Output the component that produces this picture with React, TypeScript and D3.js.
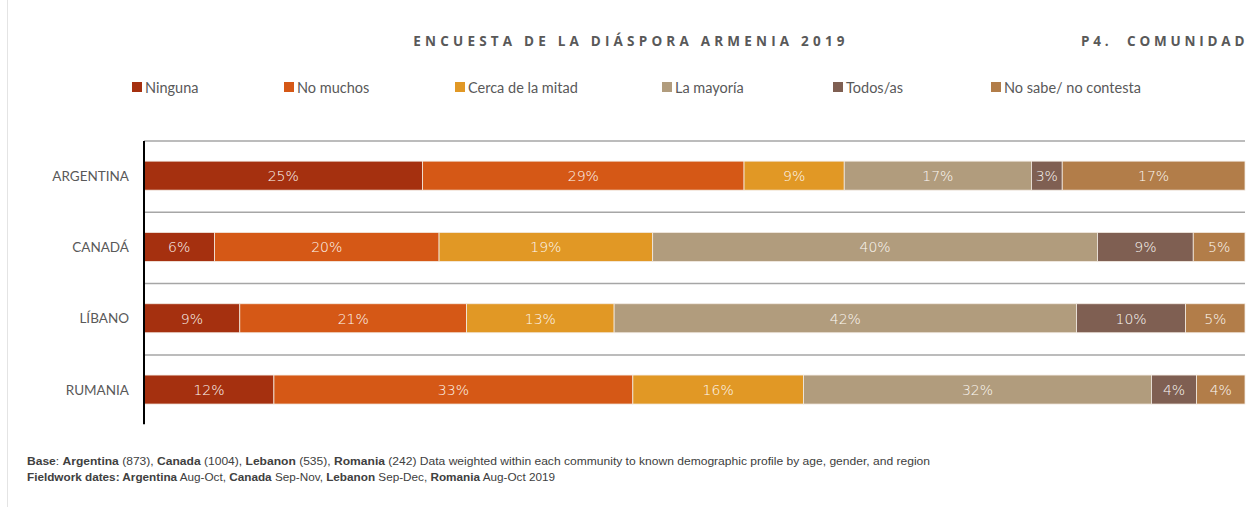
import React, { useEffect, useRef } from "react"
import * as d3 from "d3"

const categories = ["ARGENTINA", "CANADÁ", "LÍBANO", "RUMANIA"]
const seriesNames = ["Ninguna", "No muchos", "Cerca de la mitad", "La mayoría", "Todos/as", "No sabe/ no contesta"]
const colors = ["#a5300f", "#d55816", "#e19825", "#b19c7d", "#7f5f52", "#b27d49"]

// percentage per category, in the series order above
const ninguna = [25.3, 6.4, 8.7, 11.8]
const noMuchos = [29.2, 20.4, 20.6, 32.6]
const cercaMitad = [9.1, 19.4, 13.4, 15.5]
const laMayoria = [17.0, 40.4, 42.0, 31.6]
const todos = [2.8, 8.7, 9.9, 4.1]
const noSabe = [16.6, 4.7, 5.4, 4.4]

const legendX = [132, 284, 455, 662, 833, 991]

function App() {
  const ref = useRef<SVGSVGElement>(null)

  useEffect(() => {
    const width = 1251
    const height = 507
    const svg = d3.select(ref.current)
    svg.selectAll("*").remove()
    svg.attr("width", width).attr("height", height)

    const left = 144
    const right = 1245
    const top = 141
    const step = 71.3

    const x = d3.scaleLinear().domain([0, 100]).range([left, right])
    const y = d3
      .scaleBand()
      .domain(categories)
      .range([top, top + step * categories.length])
    const barH = 29

    const rows = categories.map((c, i) => {
      const r: any = { category: c }
      const vals = [ninguna[i], noMuchos[i], cercaMitad[i], laMayoria[i], todos[i], noSabe[i]]
      seriesNames.forEach((s, j) => (r[s] = vals[j]))
      return r
    })
    const stacked = d3.stack().keys(seriesNames)(rows)

    // frame line at left
    svg
      .append("line")
      .attr("x1", 7.5)
      .attr("x2", 7.5)
      .attr("y1", 0)
      .attr("y2", height)
      .attr("stroke", "#e4e4e4")
      .attr("stroke-width", 1)

    // title
    svg
      .append("text")
      .attr("x", 631)
      .attr("y", 46)
      .attr("text-anchor", "middle")
      .attr("font-family", "Open Sans, sans-serif")
      .attr("font-weight", "bold")
      .attr("font-size", 13.5)
      .attr("letter-spacing", 4.2)
      .attr("fill", "#595959")
      .text("ENCUESTA DE LA DIÁSPORA ARMENIA 2019")

    const sub = svg
      .append("g")
      .attr("font-family", "Open Sans, sans-serif")
      .attr("font-weight", "bold")
      .attr("font-size", 13.5)
      .attr("letter-spacing", 3.8)
      .attr("fill", "#595959")
    sub.append("text").attr("x", 1081).attr("y", 46).text("P4.")
    sub.append("text").attr("x", 1127).attr("y", 46).text("COMUNIDAD")

    // legend
    const lg = svg
      .append("g")
      .selectAll("g")
      .data(seriesNames)
      .join("g")
      .attr("transform", (d, i) => `translate(${legendX[i]},82)`)
    lg.append("rect").attr("width", 10).attr("height", 10).attr("fill", (d, i) => colors[i])
    lg
      .append("text")
      .attr("x", 13)
      .attr("y", 10.5)
      .attr("font-family", "Lato, sans-serif")
      .attr("font-size", 14.5)
      .attr("fill", "#595959")
      .text(d => d)

    // gridlines
    svg
      .append("g")
      .selectAll("line")
      .data(categories)
      .join("line")
      .attr("x1", left)
      .attr("x2", right)
      .attr("y1", d => y(d)!)
      .attr("y2", d => y(d)!)
      .attr("stroke", "#a6a6a6")
      .attr("stroke-width", 1.5)

    // bars
    const groups = svg
      .append("g")
      .selectAll("g")
      .data(stacked)
      .join("g")
      .attr("fill", (d, i) => colors[i])

    groups
      .selectAll("rect")
      .data(d => d)
      .join("rect")
      .attr("x", d => x(d[0]))
      .attr("width", d => x(d[1]) - x(d[0]))
      .attr("y", d => y((d.data as any).category)! + (y.bandwidth() - barH) / 2 - 1)
      .attr("height", barH)
      .attr("stroke", "#f3ebe3")
      .attr("stroke-width", 0.8)

    groups
      .selectAll("text")
      .data(d => d)
      .join("text")
      .attr("x", d => (x(d[0]) + x(d[1])) / 2)
      .attr("y", d => y((d.data as any).category)! + y.bandwidth() / 2 + 4.5)
      .attr("text-anchor", "middle")
      .attr("font-family", "DejaVu Sans, sans-serif")
      .attr("font-size", 14)
      .attr("font-weight", 200)
      .attr("fill", "#fdf9f4")
      .text(d => `${Math.round(d[1] - d[0])}%`)

    // axis line
    svg
      .append("line")
      .attr("x1", left)
      .attr("x2", left)
      .attr("y1", top)
      .attr("y2", top + step * categories.length - 2)
      .attr("stroke", "#000")
      .attr("stroke-width", 2)

    // category labels
    svg
      .append("g")
      .selectAll("text")
      .data(categories)
      .join("text")
      .attr("x", 129)
      .attr("y", d => y(d)! + y.bandwidth() / 2 + 4)
      .attr("text-anchor", "end")
      .attr("font-family", "Lato, sans-serif")
      .attr("font-size", 13.5)
      .attr("fill", "#595959")
      .text(d => d)

    // footer
    const foot = svg
      .append("g")
      .attr("font-family", "Liberation Sans Narrow, Liberation Sans, sans-serif")
      .attr("font-size", 11)
      .attr("fill", "#404040")
      .style("white-space", "pre")
    const line1 = foot
      .append("text")
      .attr("x", 27)
      .attr("y", 465)
      .attr("textLength", 903)
      .attr("lengthAdjust", "spacingAndGlyphs")
    const parts1: [string, boolean][] = [
      ["Base", true], [": ", false], ["Argentina", true], [" (873), ", false],
      ["Canada", true], [" (1004), ", false], ["Lebanon", true], ["  (535), ", false],
      ["Romania", true], [" (242) Data weighted within each community to known demographic profile by age, gender, and region", false],
    ]
    parts1.forEach(([t, b]) => line1.append("tspan").attr("font-weight", b ? "bold" : "normal").text(t))
    const line2 = foot
      .append("text")
      .attr("x", 27)
      .attr("y", 481)
      .attr("textLength", 528)
      .attr("lengthAdjust", "spacingAndGlyphs")
    const parts2: [string, boolean][] = [
      ["Fieldwork dates: Argentina", true], [" Aug-Oct, ", false], ["Canada", true], [" Sep-Nov,  ", false],
      ["Lebanon", true], [" Sep-Dec, ", false], ["Romania", true], [" Aug-Oct 2019", false],
    ]
    parts2.forEach(([t, b]) => line2.append("tspan").attr("font-weight", b ? "bold" : "normal").text(t))
  }, [])

  return (
    <div style={{ position: "absolute", left: 0, top: 0 }}>
      <svg ref={ref} style={{ display: "block", background: "#fff" }} />
    </div>
  )
}

export default App
